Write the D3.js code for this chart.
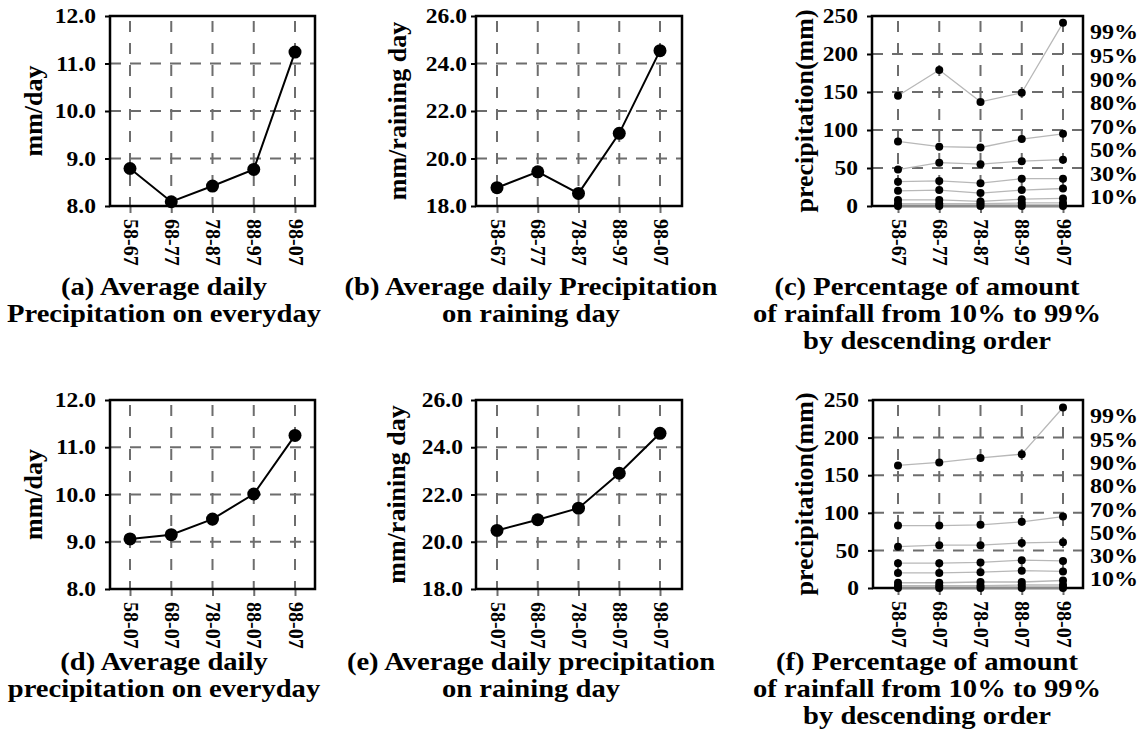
<!DOCTYPE html>
<html>
<head>
<meta charset="utf-8">
<script src="https://cdn.jsdelivr.net/npm/d3@7"></script>
<style>
  body { margin: 0; background: #fff; }
  svg text { font-family: "Liberation Serif", "Times New Roman", serif; font-weight: bold; fill: #000; }
</style>
</head>
<body>
<div id="wrapper"></div>
<script>
// ---- data ----
const periodsTop = ["58-67", "68-77", "78-87", "88-97", "98-07"];
const periodsBottom = ["58-07", "68-07", "78-07", "88-07", "98-07"];

const dailyEveryday = [8.79, 8.09, 8.42, 8.77, 11.24];      // (a)
const dailyRainingDay = [18.77, 19.44, 18.53, 21.06, 24.54]; // (b)
const dailyEverydayCum = [9.06, 9.15, 9.48, 10.01, 11.25];   // (d)
const dailyRainingDayCum = [20.48, 20.93, 21.42, 22.90, 24.59]; // (e)

const percentLabels = ["99%", "95%", "90%", "80%", "70%", "50%", "30%", "10%"];

// (c) one row per percentile line, top to bottom
const rainfallDecade = [
  [145, 179, 137, 149, 241],
  [85, 78, 77, 88, 95],
  [48, 57, 55, 59, 61],
  [32, 33, 30, 36, 36],
  [20, 21, 17, 21, 23],
  [8, 8, 6, 9, 10],
  [3, 3, 3, 4, 4],
  [0, 0, 0, 0, 0]
];
// (f)
const rainfallCum = [
  [163, 167, 173, 178, 240],
  [83, 83, 84, 88, 95],
  [55, 57, 57, 60, 61],
  [33, 33, 34, 37, 36],
  [20, 20, 21, 23, 22],
  [7, 7, 8, 8, 10],
  [3, 3, 3, 4, 4],
  [0, 0, 0, 0, 0]
];

const ticks10 = [8, 9, 10, 11, 12];
const ticksRain = [18, 20, 22, 24, 26];
const ticksPrec = [0, 50, 100, 150, 200, 250];

// ---- canvas ----
const width = 1147, height = 745;
const svg = d3.select("#wrapper").append("svg")
  .attr("width", width).attr("height", height);

const textStretch = 1.12;
const gridColor = "#6d6d6d";

function drawPanel(p) {
  const g = svg.append("g");

  const xScale = d3.scalePoint()
    .domain(p.cats)
    .range([p.left + p.padL, p.right - p.padR]);
  const yScale = d3.scaleLinear()
    .domain(d3.extent(p.yTicks))
    .range([p.bottom, p.top]);

  // horizontal grid
  g.append("g").selectAll("line")
    .data(p.yTicks.slice(1, -1))
    .join("line")
    .attr("x1", p.left).attr("x2", p.right)
    .attr("y1", d => yScale(d)).attr("y2", d => yScale(d))
    .attr("stroke", gridColor).attr("stroke-width", 2)
    .attr("stroke-dasharray", "11,9");

  // vertical grid
  g.append("g").selectAll("line")
    .data(p.cats)
    .join("line")
    .attr("x1", d => xScale(d)).attr("x2", d => xScale(d))
    .attr("y1", p.top).attr("y2", p.bottom)
    .attr("stroke", gridColor).attr("stroke-width", 2)
    .attr("stroke-dasharray", "11,11").attr("stroke-dashoffset", -5);

  // x axis
  const xAxis = g.append("g")
    .attr("transform", `translate(0,${p.bottom})`)
    .call(d3.axisBottom(xScale).tickSize(7));
  xAxis.select(".domain").remove();
  xAxis.selectAll("line").attr("stroke", gridColor).attr("stroke-width", 2);
  xAxis.selectAll("text")
    .attr("x", 0).attr("y", 0).attr("dy", "0.35em")
    .attr("text-anchor", "start")
    .attr("transform", "translate(0,13) rotate(90)")
    .style("font-size", "20px");

  // y axis
  const yAxis = g.append("g")
    .attr("transform", `translate(${p.left},0)`)
    .call(d3.axisLeft(yScale).tickValues(p.yTicks).tickSize(5).tickFormat(p.fmt));
  yAxis.select(".domain").remove();
  yAxis.selectAll("line").attr("stroke", "#000").attr("stroke-width", 2);
  yAxis.selectAll("text")
    .attr("x", null)
    .attr("transform", `translate(${-p.labelGap},0) scale(${textStretch},1)`)
    .style("font-size", "21px");

  // frame
  g.append("rect")
    .attr("x", p.left).attr("y", p.top)
    .attr("width", p.right - p.left).attr("height", p.bottom - p.top)
    .attr("fill", "none").attr("stroke", "#000").attr("stroke-width", 2.5);

  // y title
  g.append("text")
    .attr("transform", `translate(${p.titleX},${(p.top + p.bottom) / 2}) rotate(-90)`)
    .attr("text-anchor", "middle").attr("dy", "0.35em")
    .style("font-size", "26px")
    .text(p.yTitle);

  const line = d3.line()
    .x((d, i) => xScale(p.cats[i]))
    .y(d => yScale(d));

  if (p.series) {
    // percentile lines
    g.append("g").selectAll("path")
      .data(p.series)
      .join("path")
      .attr("d", line)
      .attr("fill", "none").attr("stroke", "#b8b8b8").attr("stroke-width", 1.3);
    g.append("g").selectAll("g")
      .data(p.series)
      .join("g")
      .selectAll("circle")
      .data(d => d)
      .join("circle")
      .attr("cx", (d, i) => xScale(p.cats[i]))
      .attr("cy", d => yScale(d))
      .attr("r", 4)
      .attr("fill", "#000");

    // percentile labels on the right
    const pctScale = d3.scalePoint()
      .domain(percentLabels)
      .range([p.top + 16, p.bottom - 9]);
    const pAxis = g.append("g")
      .attr("transform", `translate(${p.right},0)`)
      .call(d3.axisRight(pctScale).tickSize(0));
    pAxis.select(".domain").remove();
    pAxis.selectAll("text")
      .attr("x", null)
      .attr("transform", `translate(7,0) scale(${textStretch},1)`)
      .style("font-size", "21.5px");
  } else {
    g.append("path")
      .datum(p.values)
      .attr("d", line)
      .attr("fill", "none").attr("stroke", "#000").attr("stroke-width", 2);
    g.append("g").selectAll("circle")
      .data(p.values)
      .join("circle")
      .attr("cx", (d, i) => xScale(p.cats[i]))
      .attr("cy", d => yScale(d))
      .attr("r", 6.5)
      .attr("fill", "#000");
  }

  // caption
  const cap = g.append("text")
    .attr("transform", `translate(${p.capX},${p.capY}) scale(1.1,1)`)
    .attr("text-anchor", "middle")
    .style("font-size", "26px");
  cap.selectAll("tspan")
    .data(p.caption)
    .join("tspan")
    .attr("x", 0)
    .attr("dy", (d, i) => i === 0 ? 0 : 27)
    .text(d => d);
}

const fmt1 = d3.format(".1f");
const fmt0 = d3.format("d");

const panels = [
  { cats: periodsTop, values: dailyEveryday, yTicks: ticks10, fmt: fmt1,
    left: 110, right: 315, top: 16, bottom: 206, padL: 20, padR: 20, labelGap: 14,
    titleX: 33, yTitle: "mm/day", capX: 164, capY: 295,
    caption: ["(a) Average daily", "Precipitation on everyday"] },
  { cats: periodsTop, values: dailyRainingDay, yTicks: ticksRain, fmt: fmt1,
    left: 476, right: 682, top: 16, bottom: 206, padL: 21, padR: 22, labelGap: 9,
    titleX: 397, yTitle: "mm/raining day", capX: 531, capY: 295,
    caption: ["(b) Average daily Precipitation", "on raining day"] },
  { cats: periodsTop, series: rainfallDecade, yTicks: ticksPrec, fmt: fmt0,
    left: 872, right: 1083, top: 16, bottom: 206, padL: 26, padR: 20, labelGap: 14,
    titleX: 804, yTitle: "precipitation(mm)", capX: 927, capY: 295,
    caption: ["(c) Percentage of amount", "of rainfall from 10% to 99%", "by descending order"] },
  { cats: periodsBottom, values: dailyEverydayCum, yTicks: ticks10, fmt: fmt1,
    left: 110, right: 315, top: 400, bottom: 589, padL: 20, padR: 20, labelGap: 14,
    titleX: 33, yTitle: "mm/day", capX: 164, capY: 670,
    caption: ["(d) Average daily", "precipitation on everyday"] },
  { cats: periodsBottom, values: dailyRainingDayCum, yTicks: ticksRain, fmt: fmt1,
    left: 476, right: 682, top: 400, bottom: 589, padL: 21, padR: 22, labelGap: 13,
    titleX: 396, yTitle: "mm/raining day", capX: 531, capY: 670,
    caption: ["(e) Average daily precipitation", "on raining day"] },
  { cats: periodsBottom, series: rainfallCum, yTicks: ticksPrec, fmt: fmt0,
    left: 873, right: 1083, top: 400, bottom: 588, padL: 25, padR: 20, labelGap: 14,
    titleX: 804, yTitle: "precipitation(mm)", capX: 927, capY: 670,
    caption: ["(f) Percentage of amount", "of rainfall from 10% to 99%", "by descending order"] }
];

panels.forEach(drawPanel);
</script>
</body>
</html>
